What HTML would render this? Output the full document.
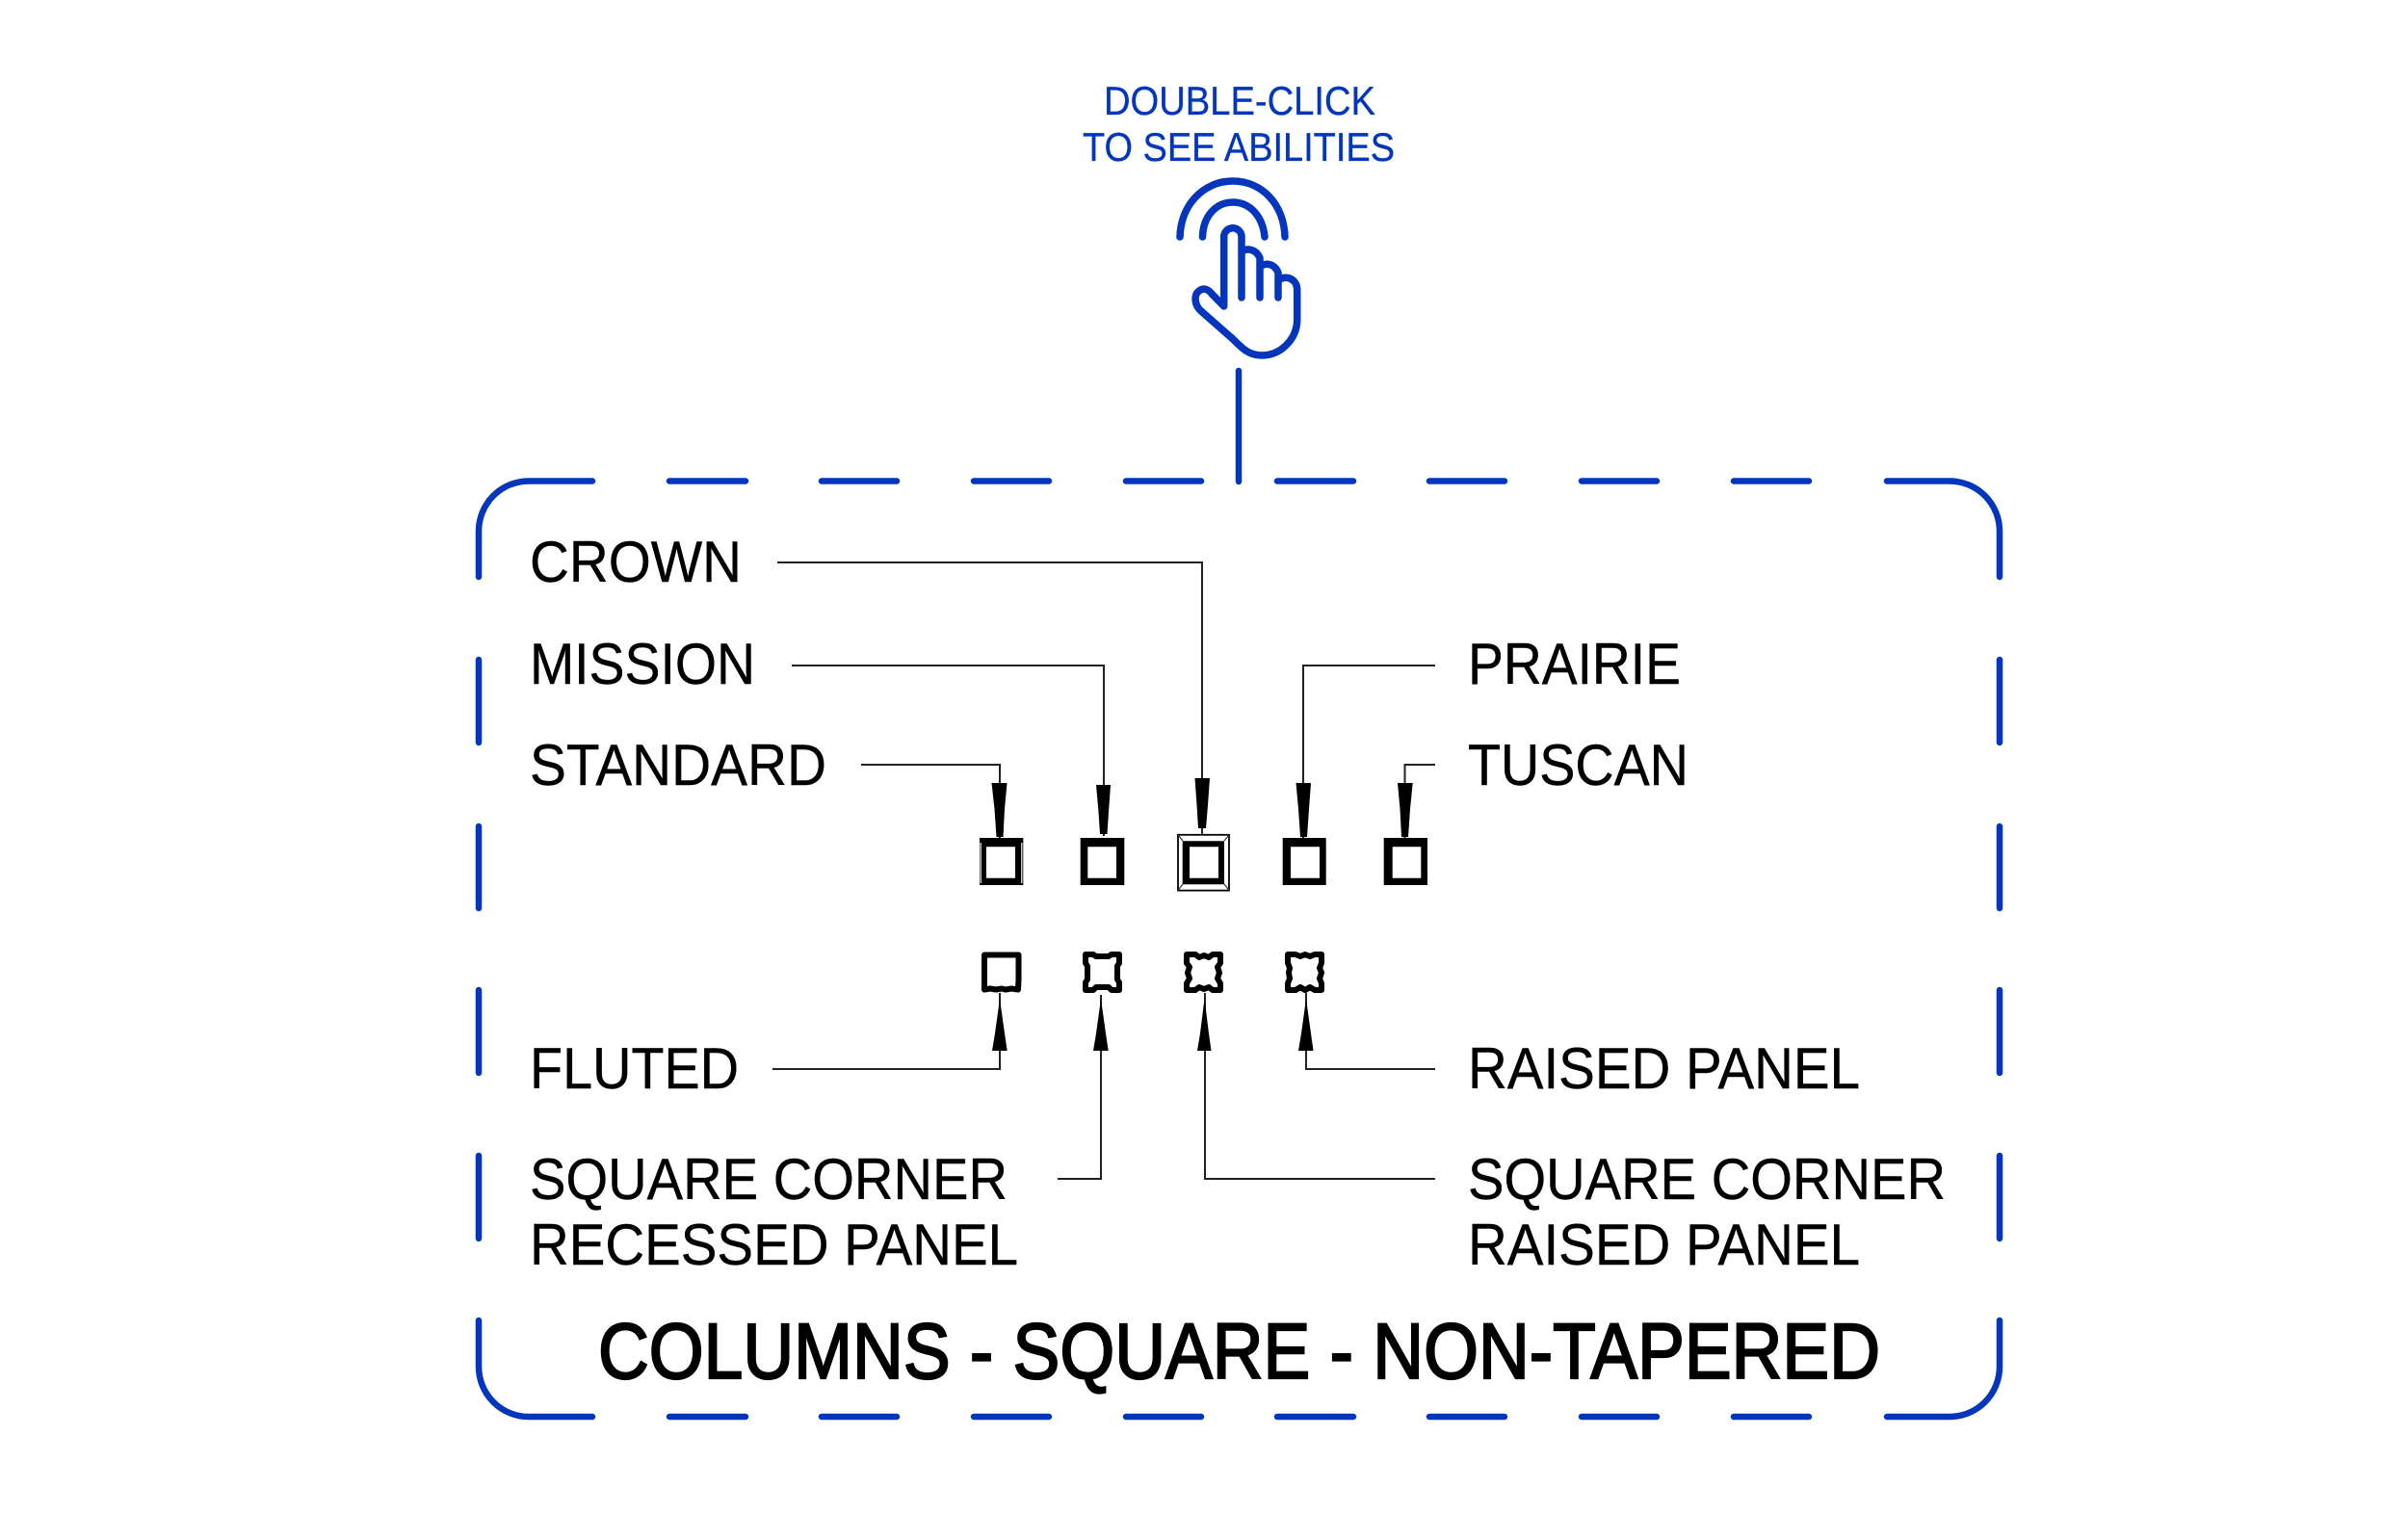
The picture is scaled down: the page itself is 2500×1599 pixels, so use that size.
<!DOCTYPE html>
<html><head><meta charset="utf-8"><style>html,body{margin:0;padding:0;background:#fff}svg{display:block}text{font-family:"Liberation Sans",sans-serif}</style></head><body>
<svg width="2500" height="1599" viewBox="0 0 2500 1599" xmlns="http://www.w3.org/2000/svg">
<rect width="2500" height="1599" fill="#fff"/>
<g fill="none" stroke="#0335bd" stroke-width="6.5" stroke-linecap="round" stroke-linejoin="round">
<path d="M615 499.5H549A52 52 0 0 0 497 551.5V599"/>
<path d="M1959 499.5H2024A52 52 0 0 1 2076 551.5V599"/>
<path d="M497 1371V1419A52 52 0 0 0 549 1471H615"/>
<path d="M2076 1371V1419A52 52 0 0 1 2024 1471H1959"/>
<path d="M695 499.5H774M853 499.5H931M1011 499.5H1089M1169 499.5H1247M1326 499.5H1405M1484 499.5H1562M1642 499.5H1720M1800 499.5H1878"/>
<path d="M695 1471H774M853 1471H931M1011 1471H1089M1169 1471H1247M1326 1471H1405M1484 1471H1562M1642 1471H1720M1800 1471H1878"/>
<path d="M497 685V771M497 858V943M497 1028V1114M497 1200V1286"/>
<path d="M2076 685V771M2076 858V943M2076 1028V1114M2076 1200V1286"/>
<path d="M1286 385V500"/>
</g>
<g fill="none" stroke="#0335bd" stroke-width="7.5" stroke-linecap="round" stroke-linejoin="round">
<path d="M1225 246C1226 212 1250 188 1280 188C1310 188 1333 212 1334 246"/>
<path d="M1248.5 246C1249 225 1262 210 1280 210C1298 210 1311 225 1313 246"/>
<path d="M1270.7 318V245A9.2 9.2 0 0 1 1289 245V309M1289 262C1293 257 1304 258 1308 268V309M1308 278C1312 272 1323 273 1327 283V309M1327 292C1332 285 1346 288 1346.7 300V333C1346 352 1330 369 1310 369C1296 369 1289 361 1280 352L1247 323C1240 317 1239 306 1245 302C1250 298 1255 301 1258 305L1270.7 318"/>
</g>
<g fill="#0335bd" stroke="#0335bd" stroke-width="0.3" font-size="42">
<text x="1146" y="119" textLength="282" lengthAdjust="spacingAndGlyphs">DOUBLE-CLICK</text>
<text x="1124" y="167" textLength="324" lengthAdjust="spacingAndGlyphs">TO SEE ABILITIES</text>
</g>
<g fill="#000" stroke="#000" stroke-width="0.4" font-size="60">
<text x="550" y="604" textLength="220" lengthAdjust="spacingAndGlyphs">CROWN</text>
<text x="550" y="710" textLength="234" lengthAdjust="spacingAndGlyphs">MISSION</text>
<text x="550" y="815" textLength="308" lengthAdjust="spacingAndGlyphs">STANDARD</text>
<text x="1524" y="710" textLength="221" lengthAdjust="spacingAndGlyphs">PRAIRIE</text>
<text x="1524" y="815" textLength="229" lengthAdjust="spacingAndGlyphs">TUSCAN</text>
<text x="550" y="1130" textLength="217" lengthAdjust="spacingAndGlyphs">FLUTED</text>
<text x="1524" y="1130" textLength="407" lengthAdjust="spacingAndGlyphs">RAISED PANEL</text>
<text x="550" y="1245" textLength="496" lengthAdjust="spacingAndGlyphs">SQUARE CORNER</text>
<text x="550" y="1313" textLength="507" lengthAdjust="spacingAndGlyphs">RECESSED PANEL</text>
<text x="1524" y="1245" textLength="496" lengthAdjust="spacingAndGlyphs">SQUARE CORNER</text>
<text x="1524" y="1313" textLength="407" lengthAdjust="spacingAndGlyphs">RAISED PANEL</text>
</g>
<text x="621" y="1431" font-size="82" fill="#000" stroke="#000" stroke-width="2.2" textLength="1331" lengthAdjust="spacingAndGlyphs">COLUMNS - SQUARE - NON-TAPERED</text>
<g fill="none" stroke="#222" stroke-width="2">
<path d="M807 584H1248V866"/>
<path d="M822 691H1146V868"/>
<path d="M894 794H1038V870"/>
<path d="M1490 691H1353V870"/>
<path d="M1490 794H1458.5V870"/>
<path d="M802 1110H1038V1031"/>
<path d="M1098 1224H1143V1033"/>
<path d="M1490 1224H1251V1031"/>
<path d="M1490 1110H1356V1031"/>
</g>
<g fill="#000">
<polygon points="1240.5,808 1256,808 1254,836 1252,860 1244,860 1242.5,836"/>
<polygon points="1138,815 1153,815 1151,843 1149.5,866 1142,866 1140.5,843"/>
<polygon points="1029.5,813 1045.5,813 1043,840 1041.5,869 1034.5,869 1032.5,840"/>
<polygon points="1345.5,813 1361,813 1359,840 1357,869 1350,869 1348,840"/>
<polygon points="1451,813 1466.7,813 1464,840 1462,869 1455,869 1453.5,840"/>
<polygon points="1038,1037 1043,1073 1045.7,1091 1030,1091 1033,1073"/>
<polygon points="1143,1037 1148,1073 1150.7,1091 1135,1091 1138,1073"/>
<polygon points="1250.5,1037 1255,1073 1257.5,1091 1243,1091 1246,1073"/>
<polygon points="1356,1037 1361,1073 1363.5,1091 1348,1091 1351,1073"/>
<path fill-rule="evenodd" d="M1017 870H1062.3V919H1017ZM1024 879.3V911.7H1054V879.3Z"/>
<path fill-rule="evenodd" d="M1121.7 870H1167.3V919H1121.7ZM1129.3 879.3V911.7H1159V879.3Z"/>
<path fill-rule="evenodd" d="M1227.7 873.3H1271V918.3H1227.7ZM1235 879.3V911.7H1265V879.3Z"/>
<path fill-rule="evenodd" d="M1331.7 870H1376.7V919H1331.7ZM1340 879.3V911.7H1370V879.3Z"/>
<path fill-rule="evenodd" d="M1436.7 870H1482V919H1436.7ZM1445.7 879.3V911.7H1475.3V879.3Z"/>
</g>
<path d="M1018.2 875V917M1060.8 875V917" stroke="#fff" stroke-width="1.2" fill="none"/>
<rect x="1223" y="866.8" width="53" height="57.8" fill="none" stroke="#000" stroke-width="1.8"/>
<path d="M1223 867L1228 873M1276 867L1271 873M1223 924.5L1228 918M1276 924.5L1271 918" stroke="#333" stroke-width="1.2" fill="none"/>
<g fill="none" stroke="#000" stroke-width="6" stroke-linejoin="round">
<path d="M1022 991.5H1057.5V1017L1057 1027.5L1050 1026.5L1044 1027.5L1040 1026.5L1034 1027.5L1028 1026.5L1022 1027.5V1017Z" />
<path d="M1127 991H1135L1138 993H1151L1154 991H1162V1000L1160 1003V1017L1162 1020V1028H1154L1151 1025H1138L1135 1028H1127V1020L1129 1017V1003L1127 1000Z" />
<path d="M1232 991H1241L1245 994L1250 992L1255 994L1259 991H1267V1000L1264 1004L1266 1010L1264 1016L1267 1021V1028H1259L1255 1025L1250 1027L1245 1025L1241 1028H1232V1021L1235 1016L1233 1010L1235 1004L1232 1000Z" />
<path d="M1337 991H1345L1350 993L1355 991L1360 993L1365 991H1372V1000L1370 1005L1372 1010L1370 1016L1372 1021V1028H1365L1360 1025L1355 1028L1350 1025L1345 1028H1337V1021L1339 1016L1338 1010L1339 1005L1337 1000Z"/>
</g>
</svg>
</body></html>
